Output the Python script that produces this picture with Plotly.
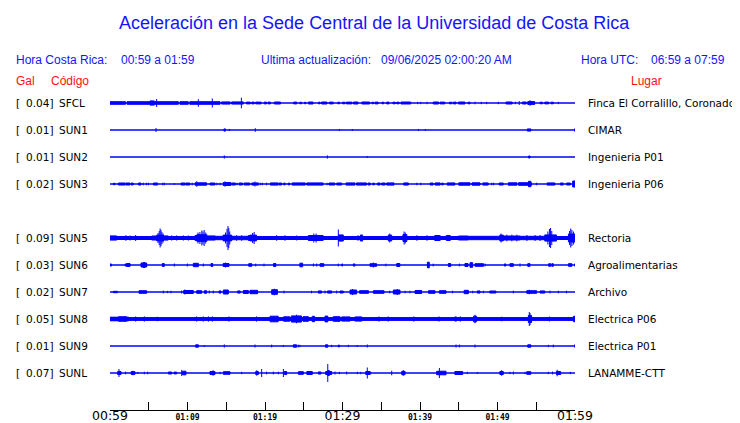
import plotly.graph_objects as go

# ---------------- data ----------------
codes = ["SFCL", "SUN1", "SUN2", "SUN3", "SUN5", "SUN6", "SUN7", "SUN8", "SUN9", "SUNL"]
gal_values = ["0.04", "0.01", "0.01", "0.02", "0.09", "0.03", "0.02", "0.05", "0.01", "0.07"]
places = ["Finca El Corralillo, Coronado", "CIMAR", "Ingenieria P01", "Ingenieria P06",
          "Rectoria", "Agroalimentarias", "Archivo", "Electrica P06", "Electrica P01", "LANAMME-CTT"]
tick_minutes = [0, 5, 10, 15, 20, 25, 30, 35, 40, 45, 50, 55, 60]
tick_labels = ["00:59", "", "01:09", "", "01:19", "", "01:29", "", "01:39", "", "01:49", "", "01:59"]
big_labels = ["00:59", "01:29", "01:59"]

# envelope events per station: (start minute, end minute, half amplitude px); start==end -> spike
sfcl_events = [(0.0,2.0,1.8),(2.2,5.2,1.8),(5.16,5.72,2.6),(6.02,6.02,4.0),(5.72,8.82,1.8),(9.03,10.1,1.8),
    (10.3,14.2,1.8),(11.4,11.4,3.8),(13.2,13.2,4.5),(14.4,15.5,1.6),(15.7,17.2,1.6),(16.95,16.95,5.3),
    (17.6,18.1,1.4),(18.3,18.6,1.4),(18.8,19.5,1.4),(19.9,20.2,1.4),(20.4,20.7,1.4),(21.2,22.0,1.5),
    (23.7,24.1,1.4),(24.5,24.7,1.3),(25.1,25.25,1.3),(25.6,26.2,1.5),(26.9,27.1,1.3),(27.3,28.0,1.5),
    (28.3,28.8,1.4),(29.4,29.6,1.3),(30.0,30.3,1.3),(30.5,31.2,1.4),(31.4,32.0,1.5),(32.5,33.5,1.5),
    (33.8,34.0,1.3),(34.2,34.6,1.4),(35.1,35.3,1.3),(35.7,36.0,1.4),(36.5,36.8,1.3),(37.0,37.3,1.3),
    (37.55,38.8,1.5),(39.7,39.7,1.2),(40.1,40.1,1.2),(40.9,40.9,1.2),(41.7,42.4,1.5),(42.6,43.2,1.4),
    (43.8,44.1,1.3),(44.3,44.65,1.4),(44.95,45.8,1.5),(46.2,46.45,1.3),(47.1,47.1,1.3),(47.9,47.9,1.2),
    (48.6,48.6,1.2),(50.1,50.1,1.2),(51.1,51.9,1.5),(52.3,52.3,1.3),(52.8,52.8,2.0),(53.2,53.7,1.5),
    (53.9,54.8,1.9),(54.2,54.2,2.8),(55.5,55.8,1.3),(56.1,56.6,1.4),(56.9,57.2,1.3),(57.85,57.85,1.2)]
sun1_events = [(5.94,5.94,2.0),(14.7,14.9,1.6),(15.4,15.4,1.0),(18.75,18.75,1.8),(29.6,29.6,1.0),
    (31.27,31.27,1.0),(39.8,39.8,1.0),(40.7,40.7,1.0),(53.85,54.3,1.6),(59.95,59.95,1.5)]
sun2_events = [(14.75,14.75,1.6),(28.05,28.05,1.6),(33.2,33.2,1.0),(54.0,54.2,1.5)]
sun3_events = [(0.43,0.65,1.2),(1.07,1.94,1.5),(2.02,2.58,1.5),(2.71,3.0,1.4),(3.66,4.0,1.5),(4.3,4.3,1.3),
    (4.7,4.7,1.3),(4.95,4.95,1.3),(5.6,6.15,1.5),(6.8,6.8,1.3),(7.0,7.0,1.3),(8.3,8.3,1.0),(9.16,9.68,1.5),
    (9.76,10.3,1.5),(10.6,10.6,1.3),(10.97,12.47,1.7),(11.2,11.2,2.8),(12.9,13.55,1.5),(13.8,13.8,1.3),
    (14.2,14.2,1.3),(14.6,15.6,2.0),(14.84,14.84,2.7),(15.7,16.2,1.5),(16.4,16.4,1.3),(16.65,17.1,1.5),
    (17.3,18.05,1.5),(18.3,19.15,1.6),(18.7,18.7,2.5),(19.4,19.4,1.3),(19.65,19.65,1.3),(20.2,20.2,1.3),
    (20.7,21.7,1.6),(21.8,22.15,1.5),(22.4,22.6,1.4),(23.0,23.2,1.4),(23.5,25.2,1.6),(25.4,27.5,1.6),
    (28.0,28.0,1.3),(28.25,29.0,1.5),(29.25,29.9,1.5),(30.45,31.6,1.6),(31.8,33.1,1.6),(33.3,33.6,1.5),
    (33.9,34.1,1.4),(34.5,34.85,1.5),(35.05,35.5,1.5),(35.7,36.65,1.6),(37.9,38.5,1.6),(39.6,39.6,1.3),
    (40.1,40.1,1.3),(41.3,41.7,1.5),(41.95,42.6,1.6),(42.8,43.0,1.4),(43.5,44.5,1.6),(45.0,46.45,1.7),
    (46.7,47.75,1.7),(48.1,48.8,1.6),(49.25,49.25,1.3),(49.5,49.5,1.3),(50.2,50.75,1.5),(51.4,52.5,1.7),
    (52.7,54.4,1.8),(54.0,54.3,3.2),(55.05,55.05,1.3),(56.4,57.4,1.6),(58.1,58.5,1.5),(58.9,59.4,1.5),
    (59.7,60.0,3.5)]
sun5_events = [(0.0,0.86,2.6),(0.86,5.16,2.0),(1.94,2.15,2.5),(2.58,2.58,2.5),(3.31,3.31,3.0),(5.16,6.02,2.0),
    (5.38,6.02,2.5),(6.02,6.9,3.4),(6.2,6.2,5.0),(6.35,6.35,7.0),(6.47,6.47,9.5),(6.58,6.58,8.0),
    (6.7,6.7,6.0),(6.85,6.85,4.5),(6.9,7.5,2.6),
    (7.5,10.97,2.0),(7.96,7.96,2.6),(8.6,8.6,2.6),(9.46,9.46,2.6),(10.1,10.1,2.6),(10.97,11.2,3.0),
    (11.2,12.5,3.8),(11.35,11.35,5.5),(11.6,11.6,6.0),(11.85,11.85,7.5),(12.0,12.0,6.5),(12.15,12.15,8.0),
    (12.35,12.35,5.5),(12.5,13.55,2.6),(13.55,14.6,2.2),
    (14.6,15.7,3.4),(14.9,14.9,5.5),(15.1,15.1,9.0),(15.22,15.22,12.0),(15.33,15.33,10.0),(15.45,15.45,6.5),
    (15.7,17.85,2.2),
    (16.34,16.34,2.8),(16.99,16.99,2.8),(17.85,18.06,3.0),(18.06,18.9,3.4),(18.4,18.4,5.0),(18.6,18.6,6.0),
    (18.9,25.6,2.0),(21.5,21.5,2.8),(22.58,22.58,2.8),(24.08,24.08,2.5),(25.6,27.5,3.0),(26.3,26.3,4.5),
    (26.6,26.6,4.5),(27.5,29.4,2.0),(29.46,29.46,8.5),(29.5,30.1,3.6),(30.1,32.3,2.0),(32.0,32.0,2.8),
    (32.3,32.6,3.5),(32.6,35.9,2.0),(35.9,36.35,3.4),(36.1,36.1,4.5),(36.35,37.8,2.0),(37.8,38.3,4.0),
    (37.95,37.95,6.5),(38.1,38.1,5.5),(38.3,41.9,2.0),
    (39.6,39.6,2.8),(40.9,40.9,2.8),(41.9,42.6,3.0),(42.6,43.4,2.0),(43.4,43.9,3.0),(43.9,44.95,2.0),
    (44.95,46.2,2.5),(46.2,50.3,2.2),(50.3,50.75,3.4),(50.45,50.45,4.5),(50.75,52.9,2.5),(51.2,51.2,3.3),
    (51.85,51.85,3.3),(52.5,52.5,3.3),(52.9,56.1,2.2),(53.8,53.8,3.0),(54.85,54.85,3.0),(55.5,55.5,3.0),
    (56.1,57.6,3.6),(56.5,56.5,6.5),(56.7,56.7,9.0),(56.85,56.85,10.0),(57.0,57.0,7.0),
    (57.6,59.15,2.0),(59.15,60.0,4.5),(59.3,59.3,7.0),(59.45,59.45,9.5),(59.6,59.6,8.0),(59.8,59.8,6.5)]
sun6_events = [(0.0,0.2,1.5),(1.94,2.58,1.5),(2.15,2.58,2.0),(4.0,4.73,2.5),(4.3,4.5,3.0),(6.75,7.0,2.0),
    (8.3,8.3,1.5),(9.98,9.98,1.5),(10.75,11.4,2.2),(12.04,12.04,1.5),(13.03,13.25,2.0),(14.6,15.35,2.0),
    (14.9,14.9,2.5),(17.9,18.3,1.8),(18.8,18.8,1.4),(19.87,19.87,1.4),(21.1,21.4,2.0),(24.5,24.86,2.3),
    (26.24,26.24,1.5),(26.67,26.67,1.5),(27.1,27.6,1.8),(29.46,29.46,1.4),(29.9,29.9,1.2),(30.0,30.0,1.4),
    (31.4,31.6,1.6),(33.55,34.4,1.8),(33.98,33.98,2.5),(35.6,35.6,1.4),(37.0,37.4,2.0),(40.95,41.2,3.3),
    (41.7,41.7,1.4),(43.66,43.96,2.0),(45.08,45.08,1.4),(45.8,46.2,2.0),(46.45,46.8,2.8),(47.1,48.2,1.8),
    (48.4,48.4,1.4),(50.9,51.06,1.6),(51.6,52.05,1.8),(52.9,52.9,1.6),(53.9,54.2,1.8),(56.6,56.85,1.8),
    (57.0,57.2,1.8),(59.15,59.6,1.8),(59.95,59.95,1.4)]
sun7_events = [(0.43,0.95,1.2),(3.74,4.73,1.8),(6.88,6.88,1.4),(7.44,7.44,1.2),(7.87,7.87,1.3),(9.25,9.25,1.5),
    (9.5,10.75,2.0),(9.66,9.66,2.5),(11.18,11.83,1.8),(12.17,12.47,1.8),(12.8,12.8,1.5),(13.33,13.33,1.5),
    (14.07,14.32,1.6),(14.62,15.27,2.5),(16.47,16.8,1.6),(17.2,17.85,2.0),(18.06,19.05,2.2),(20.86,21.6,2.8),
    (21.2,21.2,3.3),(22.45,22.45,1.4),(26.0,26.0,1.3),(26.88,27.3,1.6),(27.74,27.74,1.5),(28.08,28.6,1.6),
    (29.25,29.25,1.5),(29.68,30.1,1.5),(30.97,31.83,2.5),(31.3,31.3,3.0),(32.2,33.35,1.8),(33.98,35.36,1.8),
    (36.1,36.1,1.4),(36.56,37.42,2.5),(37.08,37.08,3.0),(38.07,38.07,1.3),(38.7,38.7,1.3),(39.36,40.22,2.0),
    (41.1,41.94,1.8),(42.5,43.36,1.8),(44.2,44.2,1.3),(45.7,46.24,2.2),(46.8,46.8,1.3),(47.4,47.74,1.6),
    (48.17,48.17,1.3),(49.0,49.8,1.5),(52.05,52.05,1.3),(53.77,55.05,1.8),(54.1,54.1,2.3),(55.5,56.1,1.6),
    (56.77,56.77,1.4),(57.85,57.85,1.3),(58.9,58.9,1.3)]
sun8_events = [(0.0,60.0,1.9),(0.0,2.4,2.3),(1.1,2.15,2.7),(3.31,3.31,2.6),(4.43,4.43,2.6),(6.1,6.1,2.3),
    (11.18,11.18,2.6),(12.04,12.04,2.6),(12.7,12.7,2.6),(13.2,13.2,2.6),(15.35,15.35,2.6),(18.9,18.9,2.6),
    (20.65,21.7,3.3),(22.4,23.2,2.7),(23.4,24.7,3.6),(24.08,24.08,4.3),(24.9,25.6,2.8),(26.1,26.4,3.2),
    (27.74,28.1,3.4),(28.8,29.68,2.8),(29.9,30.97,2.6),(31.6,32.5,2.6),(34.7,34.7,2.6),(35.9,35.9,2.6),
    (39.2,39.2,2.6),(42.45,42.45,2.6),(44.5,44.7,2.6),(45.2,45.2,2.6),(46.9,47.3,3.3),(47.1,47.1,4.3),
    (50.54,50.54,2.3),(53.98,54.4,4.0),(54.1,54.1,7.0),(54.2,54.2,6.0),(56.7,56.7,2.5),(59.8,60.0,3.2)]
sun9_events = [(11.05,11.4,1.7),(12.17,12.17,1.0),(14.75,14.75,1.6),(18.71,18.71,1.5),(20.86,20.86,1.4),
    (22.37,22.37,1.0),(23.65,24.08,1.7),(24.3,24.3,1.4),(24.5,24.5,1.2),(27.8,28.1,1.7),(28.6,28.6,1.2),
    (29.46,29.6,1.5),(30.75,30.75,1.2),(31.9,31.9,1.0),(33.2,33.2,1.5),(44.65,44.65,1.5),(45.08,45.08,1.5),
    (47.1,47.1,1.5),(53.9,54.3,1.7),(56.56,56.56,1.2),(57.2,57.2,1.4),(59.95,59.95,1.5)]
sunl_events = [(0.99,1.42,2.0),(1.16,1.16,4.0),(2.02,2.02,1.4),(2.71,3.23,1.8),(2.9,3.0,2.3),(3.57,3.57,1.0),
    (4.43,4.43,1.3),(4.86,4.86,1.3),(7.53,7.96,1.5),(8.26,8.6,1.4),(9.25,9.25,3.0),(9.37,9.8,2.3),
    (12.9,13.55,2.0),(13.3,13.3,2.8),(14.2,14.2,1.2),(14.62,15.48,1.8),(16.99,16.99,1.2),(18.8,19.14,2.0),
    (18.93,18.93,2.7),(19.57,19.57,4.0),(20.2,20.2,1.3),(21.07,21.07,1.4),(21.72,21.72,1.3),(22.37,22.37,4.0),
    (22.5,22.8,2.0),(24.3,24.95,1.8),(25.4,26.1,2.0),(26.88,27.2,1.6),(27.83,28.6,2.0),(28.1,28.3,3.0),
    (28.1,28.1,9.0),(29.03,29.03,1.5),(29.6,29.6,1.2),(30.54,30.54,1.5),(31.92,31.92,1.2),(32.35,32.35,1.2),
    (33.0,33.55,2.0),(33.2,33.2,5.5),(33.64,33.64,1.4),(36.35,36.35,2.3),(37.64,38.07,2.2),(37.85,37.85,2.8),
    (42.15,42.6,2.2),(42.5,42.5,5.0),(42.6,43.36,2.3),(44.5,45.5,2.0),(46.1,46.1,1.2),(47.4,47.4,1.0),
    (50.3,50.75,2.0),(50.54,50.54,2.8),(51.6,51.6,1.2),(52.05,52.05,1.5),(53.55,53.55,1.2),(53.77,54.3,1.8),
    (56.56,56.56,1.2),(57.1,57.1,1.4),(57.6,58.15,2.0),(57.7,57.7,3.3),(59.4,59.4,1.2)]

station_events = [sfcl_events, sun1_events, sun2_events, sun3_events, sun5_events,
                  sun6_events, sun7_events, sun8_events, sun9_events, sunl_events]

# ---------------- layout constants ----------------
W, H = 740, 423
OFF = 8                      # page body margin of the html page
PL, PR, PT, PB = 110 - OFF, 575 - OFF, 0, 410 - OFF
ROW0, ROWSTEP = 103 - OFF, 27
row_slots = [0, 1, 2, 3, 5, 6, 7, 8, 9, 10]
BLUE = "#0000ff"
TXT_BLUE = "#1414ff"
RED = "#ff1010"

fig = go.Figure()

for k, ev in enumerate(station_events):
    c = ROW0 + ROWSTEP * row_slots[k]
    fig.add_trace(go.Scatter(x=[0, 60], y=[c, c], mode="lines",
                             line=dict(color=BLUE, width=1.3),
                             hoverinfo="skip", showlegend=False))
    xs, ys = [], []
    for t0, t1, a in ev:
        if t1 > t0:
            h = max(a - 0.5, 0.5)
            xs += [t0, t1, t1, t0, t0, None]
            ys += [c - h, c - h, c + h, c + h, c - h, None]
        else:
            xs += [t0, t0, None]
            ys += [c - a, c + a, None]
    fig.add_trace(go.Scatter(x=xs, y=ys, mode="lines", fill="toself",
                             fillcolor=BLUE, line=dict(color=BLUE, width=1),
                             hoverinfo="skip", showlegend=False))

ticktext = []
for lab in tick_labels:
    if lab == "" or lab in big_labels:
        ticktext.append(lab)
    else:
        ticktext.append('<span style="font-size:8px;font-weight:bold;font-family:DejaVu Sans Mono">%s</span>' % lab)

fig.update_xaxes(range=[0, 60], tickvals=tick_minutes, ticktext=ticktext,
                 showgrid=False, zeroline=False, showline=True, linecolor="black", linewidth=1,
                 ticks="inside", ticklen=8, tickwidth=1, tickcolor="black",
                 tickfont=dict(family="DejaVu Sans", size=12.5, color="black"),
                 ticklabelstandoff=-6,
                 automargin=False, fixedrange=True)
fig.update_yaxes(range=[PB, PT], visible=False, fixedrange=True)


def px_x(px):
    return (px - OFF - PL) / (PR - PL)


def px_y(py):
    return (PB - (py - OFF)) / (PB - PT)


def ann(text, px, py, anchor="left", size=12, color=TXT_BLUE, family="Liberation Sans"):
    fig.add_annotation(text=text, xref="paper", yref="paper", x=px_x(px), y=px_y(py),
                       xanchor=anchor, yanchor="middle", showarrow=False, borderpad=0,
                       font=dict(family=family, size=size, color=color))


ann("Aceleración en la Sede Central de la Universidad de Costa Rica", 374.5, 23,
    anchor="center", size=18)
ann("Hora Costa Rica:", 15, 60.5)
ann("00:59 a 01:59", 120, 60.5)
ann("Ultima actualización:", 260, 60.5)
ann("09/06/2025 02:00:20 AM", 380, 60.5)
ann("Hora UTC:", 580, 60.5)
ann("06:59 a 07:59", 650, 60.5)
ann("Gal", 15, 80.5, color=RED)
ann("Código", 50, 80.5, color=RED)
ann("Lugar", 630, 80.5, color=RED)

for k, code in enumerate(codes):
    c = 103 + ROWSTEP * row_slots[k]
    ann("[", 15, c, size=10.5, color="black", family="DejaVu Sans")
    ann(gal_values[k] + "]", 54, c, anchor="right", size=10.5, color="black", family="DejaVu Sans")
    ann(code, 58, c, size=10.5, color="black", family="DejaVu Sans")
    ann(places[k], 587, c, size=10.5, color="black", family="DejaVu Sans")

fig.update_layout(width=W, height=H,
                  margin=dict(l=PL, r=W - PR, t=PT, b=H - PB, autoexpand=False),
                  paper_bgcolor="white", plot_bgcolor="white", showlegend=False)

fig.write_html("out.html")
